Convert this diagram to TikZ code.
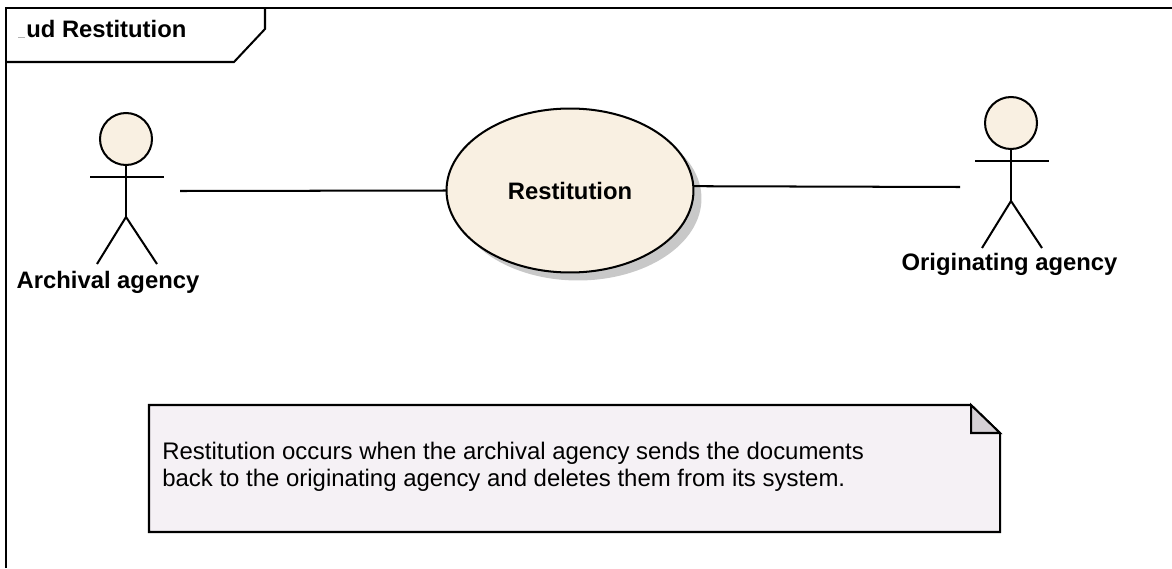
\documentclass[tikz,border=0pt]{standalone}
\usepackage{fontspec}
\setmainfont{Liberation Sans}
\usetikzlibrary{shapes.geometric,shadows}
\definecolor{cream}{HTML}{F9F0E2}
\definecolor{notefill}{HTML}{F5F1F5}
\definecolor{foldfill}{HTML}{D5D0D5}
\definecolor{shadowgray}{HTML}{C8C8C8}
\tikzset{
  stroke/.style={line width=1.15pt,black},
  label/.style={inner sep=0pt,font=\fontsize{13.55}{16}\selectfont\bfseries},
  head/.style={circle,stroke,draw,fill=cream,minimum size=1.04cm,inner sep=0pt,outer sep=0pt},
}
\begin{document}
\begin{tikzpicture}[x=0.02cm,y=-0.02cm]
  \useasboundingbox (0,0) rectangle (1172,568);
  \draw[stroke] (6,568) -- (6,8) -- (1172,8);
  \draw[stroke] (6,62) -- (234,62) -- (265,29) -- (265,8);
  \node[label,anchor=base west] (title) at (26,37) {ud Restitution};
  \draw[gray!60,line width=0.4pt] (18,37) -- (25,37);

  % use case
  \node[ellipse,stroke,draw,fill=cream,minimum width=4.94cm,minimum height=3.28cm,
    inner sep=0pt,outer sep=0pt,
    drop shadow={shadow xshift=0.16cm,shadow yshift=-0.16cm,fill=shadowgray,opacity=1},
    label] (restitution) at (570,190.5) {Restitution};

  % actor on the left
  \node[head] (archival) at (126,139) {};
  \draw[stroke] (archival) -- (126,217) coordinate (archivalhip);
  \draw[stroke] (90,177) -- (164,177);
  \draw[stroke] (archivalhip) -- (97,264);
  \draw[stroke] (archivalhip) -- (157,264);
  \node[label] (archivallabel) at (108,282) {Archival agency};
  \coordinate (archivalend) at (180,191);

  % actor on the right
  \node[head] (originating) at (1011,123) {};
  \draw[stroke] (originating) -- (1011,201) coordinate (originatinghip);
  \draw[stroke] (975,161) -- (1049,161);
  \draw[stroke] (originatinghip) -- (982,248);
  \draw[stroke] (originatinghip) -- (1042,248);
  \node[label] (originatinglabel) at (1009.5,264) {Originating agency};
  \coordinate (originatingend) at (960,187);

  \begin{scope}[-]
    \draw[stroke] (archivalend) to (restitution.west);
    \draw[stroke] (restitution.2) to (originatingend);
  \end{scope}

  % note
  \draw[stroke,fill=notefill] (149,405) -- (971,405) -- (1000,433) -- (1000,532) -- (149,532) -- cycle;
  \draw[stroke,fill=foldfill] (971,405) -- (1000,433) -- (971,433) -- cycle;
  \node[anchor=north west,inner sep=0pt,align=left,font=\fontsize{13.63}{15.3}\selectfont] (notetext) at (162,441.5)
    {Restitution occurs when the archival agency sends the documents\\
     back to the originating agency and deletes them from its system.};
\end{tikzpicture}
\end{document}
